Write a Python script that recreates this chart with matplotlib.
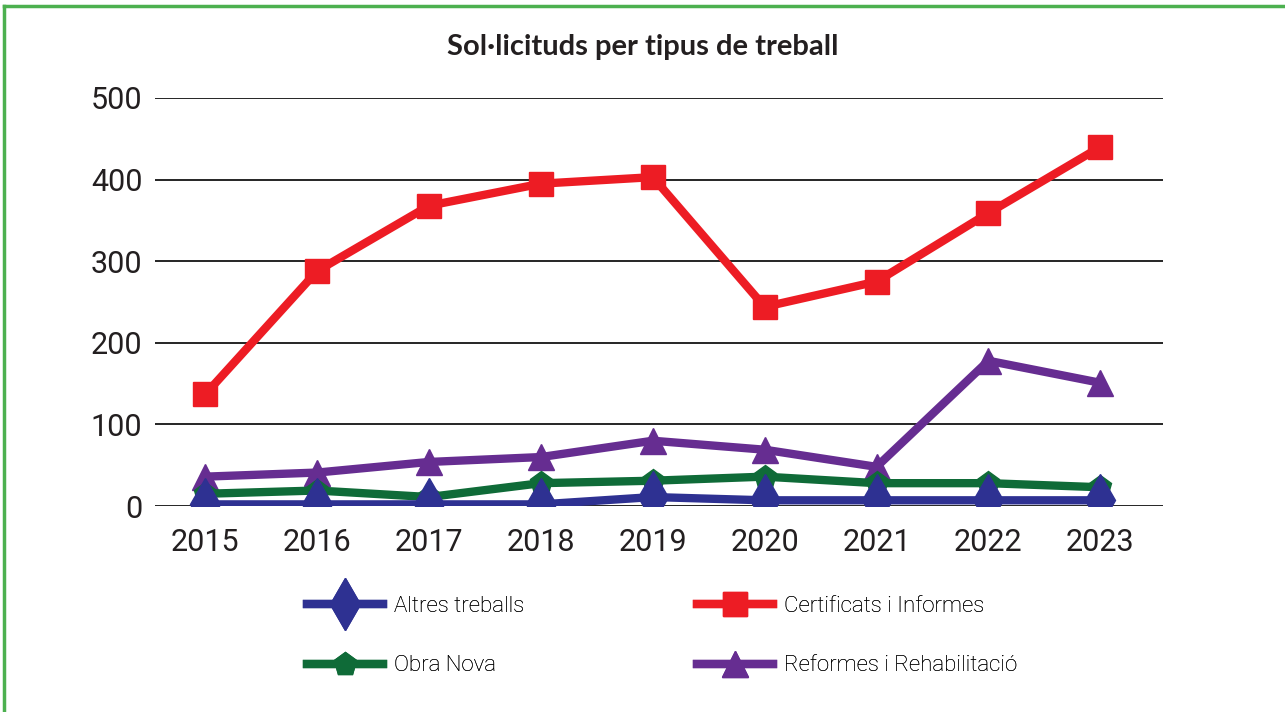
import matplotlib.pyplot as plt
from matplotlib.lines import Line2D

years = [2015, 2016, 2017, 2018, 2019, 2020, 2021, 2022, 2023]
altres = [2, 2, 2, 2, 11, 7, 7, 7, 7]
obra_nova = [15, 19, 11, 28, 31, 36, 28, 28, 23]
certificats = [137, 288, 368, 395, 403, 244, 275, 359, 440]
reformes = [36, 41, 54, 60, 80, 69, 48, 178, 151]

labels = ["Altres treballs", "Obra Nova", "Certificats i Informes", "Reformes i Rehabilitació"]
colors = ["#2e3192", "#0f6b38", "#ed1c24", "#662d91"]

cond = ["DejaVu Sans Condensed", "Roboto", "DejaVu Sans"]

fig = plt.figure(figsize=(12.85, 7.12), dpi=100)
ax = fig.add_axes([0.1206, 0.2893, 0.7844, 0.5731])

lw = 6
ax.plot(years, reformes, color=colors[3], lw=lw, marker="^", ms=19, zorder=3)
ax.plot(years, obra_nova, color=colors[1], lw=lw, marker="p", ms=17, zorder=4)
ax.plot(years, altres, color=colors[0], lw=lw, marker="d", ms=26, zorder=5)
ax.plot(years, certificats, color=colors[2], lw=lw, marker="s", ms=17, zorder=6)

ax.set_ylim(0, 500)
ax.set_xlim(2014.55, 2023.56)
ax.set_yticks(range(0, 501, 100))
ax.set_xticks(years)
ax.grid(axis="y", color="black", lw=1.2)
ax.set_axisbelow(True)
for s in ax.spines.values():
    s.set_visible(False)
ax.tick_params(axis="y", length=0, pad=9)
ax.tick_params(axis="x", length=0, pad=16)
for t in ax.get_xticklabels() + ax.get_yticklabels():
    t.set_family(cond)
    t.set_stretch("condensed")
    t.set_fontsize(22)
    t.set_color("#231f20")

fig.text(0.5, 0.934, "Sol·licituds per tipus de treball", ha="center", va="center",
         fontsize=21, fontweight="bold", family=["Lato", "DejaVu Sans"], color="#231f20")

handles = [
    Line2D([], [], color=colors[0], lw=lw, marker="d", ms=26),
    Line2D([], [], color=colors[1], lw=lw, marker="p", ms=17),
    Line2D([], [], color=colors[2], lw=lw, marker="s", ms=17),
    Line2D([], [], color=colors[3], lw=lw, marker="^", ms=19),
]
# one legend per column so both columns start where they do in the original
for i, x0 in enumerate([307 / 1285, 697 / 1285]):
    leg = fig.legend(handles[2 * i:2 * i + 2], labels[2 * i:2 * i + 2], loc="center left",
                     bbox_to_anchor=(x0, 1 - 636 / 712), frameon=False, borderpad=0,
                     borderaxespad=0, handlelength=3.4, handletextpad=0.5, labelspacing=1.75,
                     prop={"family": cond, "size": 16, "stretch": "condensed",
                           "weight": "light"})
    fig.add_artist(leg)

# green border on top and left
fig.add_artist(Line2D([0.0031, 1], [1 - 6 / 712, 1 - 6 / 712], color="#4cb04f", lw=2.5,
                      transform=fig.transFigure))
fig.add_artist(Line2D([0.0031, 0.0031], [0, 1 - 6 / 712], color="#4cb04f", lw=2.5,
                      transform=fig.transFigure))

fig.savefig("out.png", dpi=100)
